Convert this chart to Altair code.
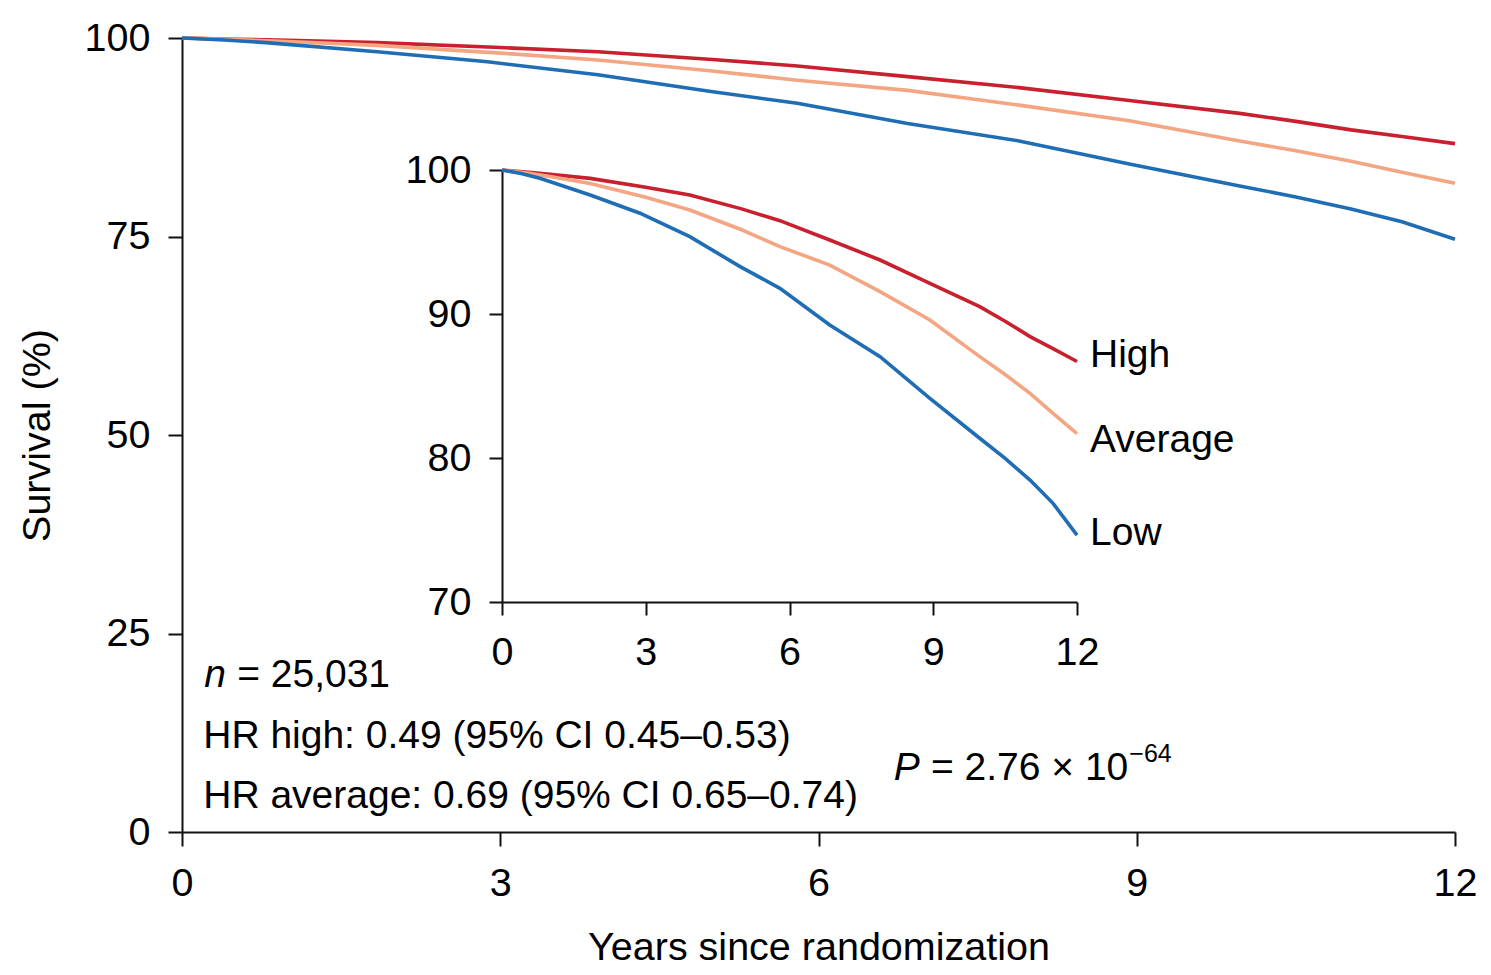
import altair as alt
import pandas as pd

# ---- data (years since randomization, survival %) ----
groups = ["High", "Average", "Low"]
high_t = [0, 0.5, 1.0, 1.84, 3.0, 3.92, 5.0, 5.8, 6.84, 7.89, 8.93, 9.97, 10.5, 11.02, 11.5, 12.0]
high_s = [100, 99.85, 99.7, 99.42, 98.8, 98.26, 97.3, 96.48, 95.14, 93.75, 92.13, 90.51, 89.5, 88.43, 87.6, 86.7]
avg_t = [0, 0.5, 1.0, 1.84, 3.0, 3.92, 5.0, 5.8, 6.84, 7.89, 8.93, 9.97, 10.5, 11.02, 11.5, 12.0]
avg_s = [100, 99.8, 99.55, 99.07, 98.1, 97.22, 95.85, 94.68, 93.4, 91.55, 89.58, 87.04, 85.8, 84.49, 83.1, 81.7]
low_t = [0, 0.4, 0.79, 1.84, 2.88, 3.92, 4.97, 5.8, 6.84, 7.89, 8.93, 9.97, 10.5, 11.02, 11.5, 12.0]
low_s = [100, 99.75, 99.42, 98.26, 97.0, 95.37, 93.29, 91.78, 89.24, 87.04, 84.14, 81.37, 79.98, 78.47, 76.85, 74.65]

main_x_ticks = [0, 3, 6, 9, 12]
main_y_ticks = [0, 25, 50, 75, 100]
inset_x_ticks = [0, 3, 6, 9, 12]
inset_y_ticks = [70, 80, 90, 100]

n_text = "= 25,031"
hr_high_text = "HR high: 0.49 (95% CI 0.45\u20130.53)"
hr_avg_text = "HR average: 0.69 (95% CI 0.65\u20130.74)"
p_text = "= 2.76 \u00d7 10"
p_exp = "\u221264"

colors = ["#c8202e", "#f4a582", "#1f6db5"]
FONT = "Liberation Sans"
FS = 39.5
FS_ANN = 39

df = pd.concat([
    pd.DataFrame({"t": high_t, "s": high_s, "g": "High"}),
    pd.DataFrame({"t": avg_t, "s": avg_s, "g": "Average"}),
    pd.DataFrame({"t": low_t, "s": low_s, "g": "Low"}),
], ignore_index=True)

W, H = 1273, 794
color = alt.Color("g:N", scale=alt.Scale(domain=groups, range=colors), legend=None)

def main_x():
    return alt.X("t:Q", scale=alt.Scale(domain=[0, 12], nice=False, zero=False),
                 axis=alt.Axis(values=main_x_ticks, title="Years since randomization",
                               titlePadding=26, orient="bottom"))

def main_y():
    return alt.Y("s:Q", scale=alt.Scale(domain=[0, 100], nice=False),
                 axis=alt.Axis(values=main_y_ticks, title="Survival (%)",
                               titlePadding=27, orient="left"))

def inset_x():
    return alt.X("t:Q", scale=alt.Scale(domain=[0, 12], range=[320, 895], nice=False, zero=False),
                 axis=alt.Axis(values=inset_x_ticks, title=None, orient="bottom",
                               offset=-230, tickSize=13))

def inset_y():
    return alt.Y("s:Q", scale=alt.Scale(domain=[70, 100], range=[564, 132], nice=False, zero=False),
                 axis=alt.Axis(values=inset_y_ticks, title=None, orient="left",
                               offset=-320, tickSize=13))

main_lines = alt.Chart(df).mark_line(strokeWidth=3.6).encode(
    x=main_x(), y=main_y(), color=color)

def text_layer(rows, x_enc, y_enc, **kw):
    d = pd.DataFrame(rows, columns=["t", "s", "label"])
    return alt.Chart(d).mark_text(align="left", baseline="alphabetic", font=FONT,
                                  color="black", **kw).encode(
        x=x_enc(), y=y_enc(), text="label:N")

ann_normal = text_layer([
    [0.52, 18.3, n_text],
    [0.2, 10.54, hr_high_text],
    [0.2, 2.98, hr_avg_text],
    [7.06, 6.55, p_text],
], main_x, main_y, fontSize=FS_ANN)

ann_italic = text_layer([
    [0.21, 18.3, "n"],
    [6.71, 6.55, "P"],
], main_x, main_y, fontSize=FS_ANN, fontStyle="italic")

ann_sup = text_layer([
    [8.93, 8.85, p_exp],
], main_x, main_y, fontSize=25)

main_layer = alt.layer(main_lines, ann_normal, ann_italic, ann_sup)

inset_lines = alt.Chart(df).mark_line(strokeWidth=3.6).encode(
    x=inset_x(), y=inset_y(), color=color)

inset_labels = text_layer([
    [12, 86.34, "High"],
    [12, 80.44, "Average"],
    [12, 73.96, "Low"],
], inset_x, inset_y, fontSize=FS_ANN, dx=13)

inset_layer = alt.layer(inset_lines, inset_labels)

chart = alt.layer(main_layer, inset_layer).resolve_scale(
    x="independent", y="independent"
).properties(
    width=W, height=H,
    autosize=alt.AutoSizeParams(type="none"),
    padding={"left": 174, "top": 30, "right": 28, "bottom": 141},
    background="white",
).configure_view(stroke=None).configure_axis(
    labelFont=FONT, labelFontSize=FS, labelColor="black",
    titleFont=FONT, titleFontSize=FS, titleFontWeight="normal", titleColor="black",
    domainColor="#111111", domainWidth=2, tickColor="#111111", tickWidth=2,
    tickSize=14, labelPadding=18, grid=False, labelFlush=False, labelOverlap=False,
)

chart.save("out.html", embed_options={"renderer": "svg", "actions": False})
